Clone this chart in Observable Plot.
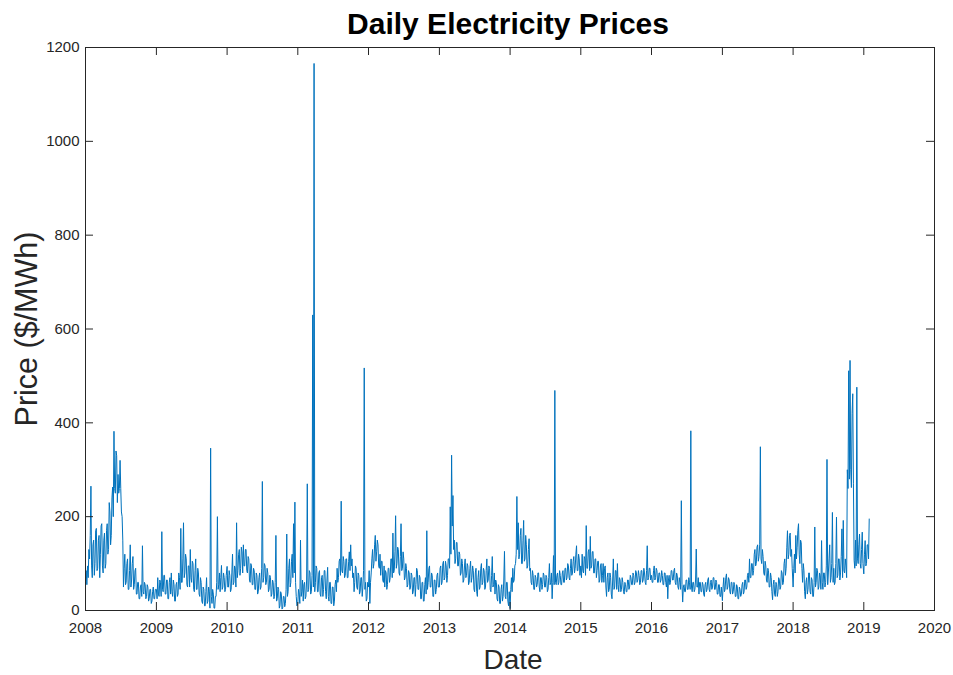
<!DOCTYPE html>
<html>
<head>
<meta charset="utf-8">
<script src="https://cdn.jsdelivr.net/npm/d3@7"></script>
<script src="https://cdn.jsdelivr.net/npm/@observablehq/plot@0.6"></script>
<style>
  html, body { margin: 0; padding: 0; background: #fff; }
  #chart { width: 953px; height: 675px; }
</style>
</head>
<body>
<div id="chart"></div>
<script>
// Price readings ($/MWh), one array per calendar year, sampled twice a week:
// entry i falls on Jan 1 + 3.5*i days.
const price2008 = [60,85, 55,95, 70,130, 110,160, 265,95, 70,140, 150,75, 100,170, 175,85, 90,150, 160,70, 120,180, 185,95, 80,150, 165,90, 100,170, 185,120, 130,230, 210,140, 160,240, 263,200, 382,260, 250,340, 330,230, 290,250, 260,320, 260,210, 200,150, 50,90, 120,55, 60,100, 110,45, 45,85, 140,50, 65,100, 115,45, 55,85, 90,35, 35,60, 60,25, 25,50, 55,30, 138,40, 35,60, 55,25, 30,55, 50,20, 25,45, 45,15, 20,40, 50,25, 25,45];
const price2009 = [45,25, 70,35, 30,65, 60,30, 168,45, 40,75, 75,35, 35,65, 65,25, 25,60, 70,35, 80,40, 30,65, 55,20, 20,55, 60,30, 35,80, 70,45, 175,60, 60,110, 187,70, 80,120, 110,55, 50,95, 95,50, 130,70, 60,105, 100,45, 40,85, 110,45, 45,90, 80,35, 30,70, 60,20, 15,50, 45,10, 10,40, 70,15, 20,50, 40,5, 346,30, 15,45, 35,5, 5,30, 30,60, 200,45, 55,80, 40,70, 96,45, 50,80, 70,40, 45,75];
const price2010 = [94,50, 50,85, 75,40, 45,80, 120,55, 60,95, 90,50, 187,70, 85,120, 130,75, 90,135, 125,80, 140,95, 95,130, 130,85, 80,115, 110,65, 60,100, 95,55, 55,90, 85,45, 45,80, 75,35, 40,70, 80,45, 50,90, 275,60, 70,100, 95,55, 60,90, 80,40, 45,75, 70,30, 35,65, 60,25, 30,60, 160,20, 25,50, 45,5, 10,40, 35,3, 5,30, 30,8, 15,45, 163,30, 40,90, 110,50, 60,105, 120,70, 185,80, 231,60, 30,10];
const price2011 = [15,45, 35,15, 150,30, 40,65, 20,55, 60,25, 30,65, 270,40, 45,85, 80,35, 40,75, 630,50, 1166,40, 60,95, 90,40, 40,80, 85,35, 30,70, 75,30, 45,85, 85,40, 25,65, 92,30, 20,60, 60,15, 15,50, 50,10, 20,55, 65,40, 90,60, 70,105, 110,75, 233,85, 80,115, 105,70, 75,110, 110,70, 70,105, 125,85, 140,95, 110,70, 80,40, 60,95, 90,50, 45,80, 75,35, 40,70, 70,30, 50,85, 517,45, 60,20, 25,60];
const price2012 = [50,85, 15,60, 80,110, 130,90, 100,140, 160,105, 125,150, 140,95, 90,120, 75,105, 105,65, 60,95, 50,85, 80,45, 55,90, 90,60, 70,110, 110,70, 165,80, 85,125, 202,90, 100,135, 130,80, 75,115, 185,85, 90,125, 110,65, 70,100, 90,50, 55,85, 80,45, 50,80, 75,35, 40,70, 70,30, 55,90, 85,45, 45,75, 70,25, 25,60, 60,20, 20,55, 70,35, 170,45, 60,90, 95,50, 50,80, 75,30, 30,65, 65,35, 45,75, 80,50];
const price2013 = [50,90, 95,55, 60,100, 105,65, 70,105, 95,60, 75,110, 110,90, 221,120, 331,180, 245,130, 150,100, 110,145, 145,95, 95,125, 120,75, 80,110, 100,60, 65,95, 110,70, 75,100, 95,55, 60,90, 105,60, 70,95, 85,45, 40,80, 90,40, 30,70, 85,45, 50,90, 100,55, 60,90, 85,45, 50,85, 110,60, 65,95, 90,45, 40,75, 115,50, 55,80, 35,65, 60,25, 20,55, 50,15, 15,45, 55,20, 30,65, 126,30, 25,60, 60,20, 10,40];
const price2014 = [4,45, 70,40, 90,60, 65,95, 100,120, 243,130, 187,110, 120,160, 175,100, 100,150, 192,105, 110,160, 140,90, 95,130, 153,85, 90,60, 55,85, 75,45, 45,75, 70,50, 55,80, 80,50, 40,70, 70,45, 55,80, 75,50, 50,75, 70,40, 45,70, 100,55, 60,80, 25,60, 117,55, 469,60, 55,75, 80,55, 60,85, 75,55, 55,80, 85,60, 60,90, 90,65, 70,100, 95,70, 65,90, 110,75, 80,105, 115,80, 90,120, 138,85, 85,120, 110,75];
const price2015 = [95,70, 120,85, 80,115, 110,75, 181,90, 90,125, 130,85, 158,90, 95,125, 126,80, 80,110, 110,70, 85,105, 105,60, 65,95, 100,60, 75,100, 60,90, 95,50, 30,70, 80,40, 45,80, 70,35, 25,65, 110,45, 50,85, 85,45, 100,55, 40,70, 65,40, 45,70, 60,40, 35,60, 55,40, 40,65, 65,45, 50,75, 70,55, 55,80, 75,55, 60,85, 80,60, 65,85, 75,55, 60,85, 85,60, 65,90, 80,60, 55,85, 138,65, 70,90, 90,65];
const price2016 = [75,60, 60,85, 95,65, 70,90, 85,60, 60,80, 80,60, 65,85, 75,55, 55,80, 80,60, 50,75, 25,65, 75,55, 60,85, 85,65, 65,85, 90,60, 55,80, 75,50, 45,70, 60,45, 234,55, 18,50, 55,40, 40,65, 65,45, 45,70, 60,45, 383,50, 40,60, 60,40, 45,65, 131,50, 50,70, 35,60, 60,40, 40,60, 55,35, 30,55, 60,40, 45,65, 70,45, 40,60, 65,45, 50,70, 70,45, 45,65, 60,35, 35,55, 55,30, 30,50];
const price2017 = [21,50, 70,40, 45,70, 78,45, 50,70, 65,40, 35,60, 60,35, 40,60, 55,30, 30,55, 50,25, 25,50, 45,30, 35,55, 60,35, 40,65, 65,45, 50,75, 80,60, 110,70, 70,100, 100,75, 85,120, 130,95, 100,135, 140,105, 115,140, 349,110, 100,130, 115,80, 75,105, 95,65, 60,90, 85,50, 50,80, 70,40, 23,55, 65,35, 30,60, 55,30, 40,70, 65,45, 50,85, 80,55, 60,100, 110,75, 90,135, 170,110, 120,160, 165,115, 130,90];
const price2018 = [50,90, 120,80, 160,110, 135,170, 185,120, 100,150, 145,90, 60,100, 85,40, 25,60, 70,35, 45,80, 80,40, 35,70, 65,30, 30,60, 178,50, 60,90, 85,45, 50,80, 75,45, 149,60, 45,80, 80,50, 60,95, 322,55, 80,110, 140,60, 70,100, 209,60, 90,55, 60,100, 199,70, 75,110, 110,65, 80,115, 174,70, 192,85, 80,110, 95,70, 300,260, 511,280, 533,300, 262,420, 462,270, 107,90, 150,95, 476,110, 100,140, 163,100, 90,130, 167,100];
const price2019 = [78,120, 149,95, 100,140, 140,110, 195];

const seriesByYear = [
  [2008, price2008], [2009, price2009], [2010, price2010], [2011, price2011],
  [2012, price2012], [2013, price2013], [2014, price2014], [2015, price2015],
  [2016, price2016], [2017, price2017], [2018, price2018], [2019, price2019]
];

// Axis tick values
const yearTicks = [2008, 2009, 2010, 2011, 2012, 2013, 2014, 2015, 2016, 2017, 2018, 2019, 2020];
const priceTicks = [0, 200, 400, 600, 800, 1000, 1200];

const DAY = 864e5;
const yearDates = yearTicks.map(y => new Date(Date.UTC(y, 0, 1)));

const rows = seriesByYear.flatMap(([year, values]) =>
  values.map((price, i) => ({date: new Date(Date.UTC(year, 0, 1) + 3.5 * i * DAY), price}))
);

const axisColor = "#262626";
const frameW = 953 - 85 - 19;
const frameH = 675 - 47 - 65;
const tickLen = 8;

const chart = Plot.plot({
  width: 953,
  height: 675,
  marginTop: 47,
  marginBottom: 65,
  marginLeft: 85,
  marginRight: 19,
  style: {background: "#fff", fontFamily: "'Liberation Sans', Arial, Helvetica, sans-serif", color: axisColor},
  x: {type: "utc", domain: [yearDates[0], yearDates[yearDates.length - 1]]},
  y: {domain: [0, 1200]},
  marks: [
    // price series
    Plot.lineY(rows, {x: "date", y: "price", stroke: "#0072BD", strokeWidth: 1}),
    // box and inward ticks on all four sides
    Plot.frame({stroke: axisColor, strokeWidth: 1}),
    Plot.tickX(yearDates, {x: d => d, insetTop: frameH - tickLen, stroke: axisColor}),
    Plot.tickX(yearDates, {x: d => d, insetBottom: frameH - tickLen, stroke: axisColor}),
    Plot.tickY(priceTicks, {y: d => d, insetRight: frameW - tickLen, stroke: axisColor}),
    Plot.tickY(priceTicks, {y: d => d, insetLeft: frameW - tickLen, stroke: axisColor}),
    // tick labels
    Plot.axisX({ticks: yearDates, tickFormat: d3.utcFormat("%Y"), tickSize: 0, tickPadding: 12, fontSize: 15, label: null, fill: axisColor}),
    Plot.axisY({ticks: priceTicks, tickFormat: d3.format("d"), tickSize: 0, tickPadding: 6, fontSize: 15, label: null, fill: axisColor}),
    // title and axis titles
    Plot.text(["Daily Electricity Prices"], {frameAnchor: "top", dx: -2, dy: -23, lineAnchor: "middle", textAnchor: "middle", fontSize: 30, fontWeight: "bold", fill: "#000"}),
    Plot.text(["Date"], {frameAnchor: "bottom", dx: 3, dy: 50, lineAnchor: "middle", textAnchor: "middle", fontSize: 28, fill: axisColor}),
    Plot.text(["Price ($/MWh)"], {frameAnchor: "left", dx: -58, rotate: -90, lineAnchor: "middle", textAnchor: "middle", fontSize: 30.5, fill: axisColor})
  ]
});

document.getElementById("chart").appendChild(chart);
</script>
</body>
</html>
